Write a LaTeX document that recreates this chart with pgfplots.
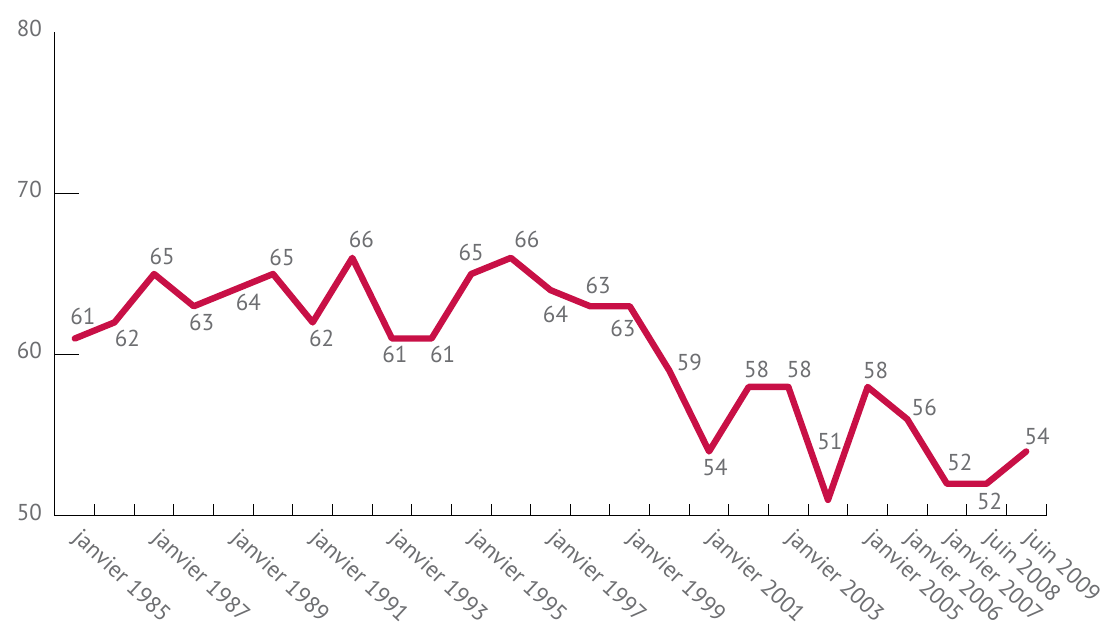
\documentclass[border=0pt]{standalone}
\usepackage{fontspec}
\setmainfont{PT Sans}
\usepackage{pgfplots}
\usepackage{pgfplotstable}
\pgfplotsset{compat=1.18}
\definecolor{linered}{RGB}{200,16,70}
\definecolor{txtgray}{RGB}{109,110,113}

% x = position between tick marks, dx/dy = label offset (pt)
\pgfplotstableread{
x    y  dx   dy
0.5  61 4    11
1.5  62 6.5  -8
2.5  65 4    9
3.5  63 4    -8
4.5  64 7.5  -6
5.5  65 4.5  8.5
6.5  62 4.5  -8
7.5  66 4.5  9
8.5  61 1.5  -8
9.5  61 5.5  -8
10.5 65 0    11
11.5 66 8    9
12.5 64 2.5  -12
13.5 63 4    10.5
14.5 63 -3.5 -11
15.5 59 10   4
16.5 54 3    -8
17.5 58 4    8.5
18.5 58 5.5  8.5
19.5 51 1    29
20.5 58 4    8
21.5 56 8.5  6
22.5 52 6.5  10.5
23.5 52 1.5  -9
24.5 54 5.5  7.5
}\datatable

\begin{document}
\begin{tikzpicture}
\begin{axis}[
  at={(0,0)}, anchor=south west,
  scale only axis, width=495.5pt, height=242pt,
  xmin=0, xmax=25, ymin=50, ymax=80,
  axis x line=bottom, axis y line=left,
  axis line style={-, black, line width=0.5pt},
  tick align=inside,
  major tick length=12pt,
  ytick={60,70},
  extra y ticks={50,80},
  extra y tick style={major tick length=0pt},
  yticklabel style={text=txtgray, font=\fontsize{11.5}{13}\selectfont, xshift=-3pt, yshift=2pt},
  /pgf/number format/assume math mode=true,
  xtick={0.5,2.5,4.5,6.5,8.5,10.5,12.5,14.5,16.5,18.5,20.5,21.5,22.5,23.5,24.5},
  xticklabels={janvier 1985,janvier 1987,janvier 1989,janvier 1991,janvier 1993,janvier 1995,janvier 1997,janvier 1999,janvier 2001,janvier 2003,janvier 2005,janvier 2006,janvier 2007,juin 2008,juin 2009},
  major x tick style={draw=none},
  minor xtick={0,1,...,25},
  minor tick length=6pt,
  minor x tick style={draw=black, line width=0.5pt},
  ytick style={draw=black, line width=0.5pt},
  xticklabel style={text=txtgray, font=\fontsize{11.5}{13}\selectfont, xshift=4pt, yshift=-4pt, rotate=-43, anchor=north west, inner sep=1pt},
  clip=false,
]
\addplot[linered, line width=3.2pt, line join=round, line cap=round,
  point meta=explicit symbolic,
  visualization depends on={\thisrow{dx} \as \dx},
  visualization depends on={\thisrow{dy} \as \dy},
  nodes near coords,
  every node near coord/.append style={anchor=center, xshift=\dx pt, yshift=\dy pt,
    text=txtgray, font=\fontsize{11.5}{13}\selectfont}]
  table[x=x, y=y, meta=y] {\datatable};
\end{axis}
\pgfresetboundingbox
\path[use as bounding box] (-27.5pt,-54.5pt) rectangle (526pt,258pt);
\end{tikzpicture}
\end{document}
